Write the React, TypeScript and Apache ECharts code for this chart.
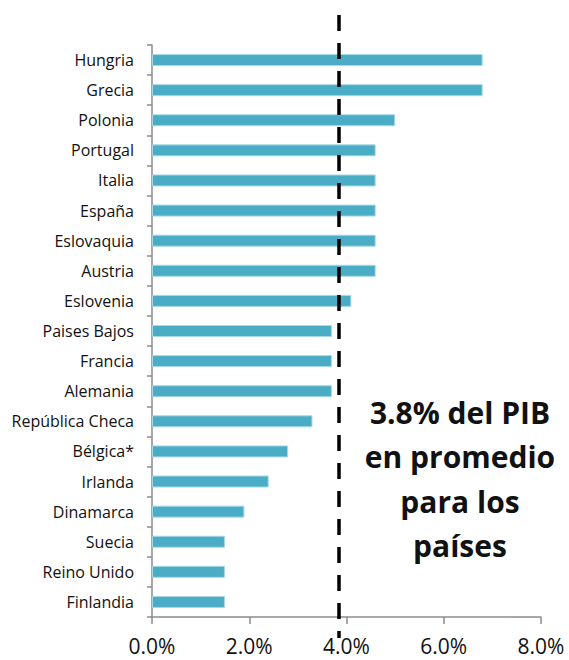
import React, { useEffect, useRef } from "react";
import * as echarts from "echarts";

const countries = [
  "Hungria", "Grecia", "Polonia", "Portugal", "Italia", "España", "Eslovaquia", "Austria",
  "Eslovenia", "Paises Bajos", "Francia", "Alemania", "República Checa", "Bélgica*",
  "Irlanda", "Dinamarca", "Suecia", "Reino Unido", "Finlandia",
];
const values = [6.8, 6.8, 5.0, 4.6, 4.6, 4.6, 4.6, 4.6, 4.1, 3.7, 3.7, 3.7, 3.3, 2.8, 2.4, 1.9, 1.5, 1.5, 1.5];
const averageValue = 3.85;
const xTicks = [0, 2, 4, 6, 8];
const annotationLines = ["3.8% del PIB", "en promedio", "para los", "países"];

export default function App() {
  const ref = useRef<HTMLDivElement>(null);
  useEffect(() => {
    if (!ref.current) return;
    const chart = echarts.init(ref.current, null, { renderer: "svg" });
    chart.setOption({
      animation: false,
      grid: { left: 152, right: 28, top: 45, bottom: 43 },
      xAxis: {
        type: "value",
        min: xTicks[0],
        max: xTicks[xTicks.length - 1],
        interval: 2,
        axisLine: { show: true, lineStyle: { color: "#8c8c8c", width: 1.5 } },
        axisTick: { show: true, length: 7, lineStyle: { color: "#8c8c8c", width: 1.5 } },
        splitLine: { show: false },
        axisLabel: {
          margin: 18,
          fontSize: 21,
          lineHeight: 21,
          color: "#111",
          fontFamily: "Open Sans",
          formatter: (v: number) => v.toFixed(1) + "%",
        },
      },
      yAxis: {
        type: "category",
        data: countries,
        inverse: true,
        axisLine: { show: true, lineStyle: { color: "#8c8c8c", width: 1.5 } },
        axisTick: { show: true, length: 5, lineStyle: { color: "#8c8c8c", width: 1.5 } },
        axisLabel: { margin: 18, fontSize: 16, color: "#111", fontFamily: "Open Sans" },
      },
      series: [
        {
          type: "bar",
          data: values,
          barWidth: 12,
          itemStyle: { color: "#4BACC6", borderColor: "#a8d8e6", borderWidth: 1 },
          markLine: {
            symbol: "none",
            silent: true,
            label: { show: false },
            lineStyle: { color: "#000", width: 3.5, type: [16, 12] },
            data: [[
              { coord: [averageValue, 0], y: 15 },
              { coord: [averageValue, 0], y: 638 },
            ]],
          },
        },
      ],
      graphic: annotationLines.map((t, i) => ({
        type: "text",
        x: 460,
        y: 412 + i * 44.5,
        style: {
          text: t,
          fontSize: 30,
          fontWeight: "bold",
          fontFamily: "Open Sans",
          fill: "#111",
          align: "center",
          verticalAlign: "middle",
        },
      })),
    });
    return () => chart.dispose();
  }, []);
  return <div ref={ref} style={{ width: 569, height: 660, position: "absolute", left: 0, top: 0 }} />;
}
